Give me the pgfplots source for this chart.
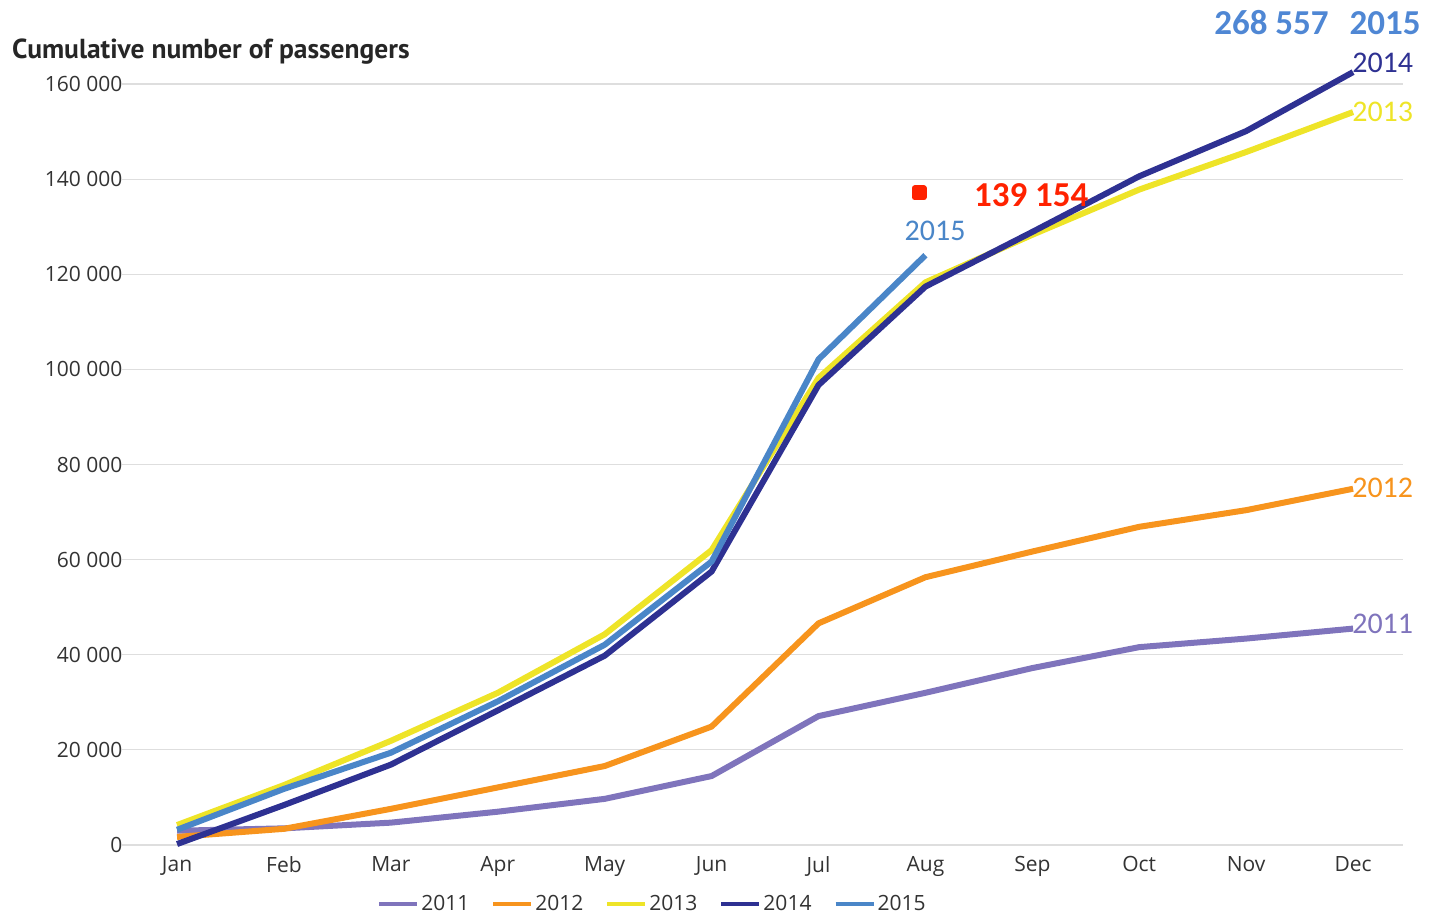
\documentclass[border=0pt]{standalone}
\usepackage{pgfplots}
\pgfplotsset{compat=1.18}
\usepackage{fontspec}
\setmainfont{Carlito}
\newfontfamily\tickfont{Open Sans}
\newfontfamily\titlefont{PT Sans}
\definecolor{c2011}{HTML}{7F74BC}
\definecolor{c2012}{HTML}{F7941D}
\definecolor{c2013}{HTML}{EEE428}
\definecolor{c2014}{HTML}{2E3192}
\definecolor{c2015}{HTML}{4A86C8}
\definecolor{cbig}{HTML}{4F87D4}
\definecolor{cred}{HTML}{FF2200}
\definecolor{txt}{HTML}{333333}
\begin{document}
\begin{tikzpicture}
\path[use as bounding box] (-122pt,-71pt) rectangle (1308pt,845pt);
\begin{axis}[
  scale only axis,
  width=1281.3pt, height=808.56pt,
  xmin=-0.515, xmax=11.47,
  ymin=0, ymax=170000,
  clip=false,
  scaled y ticks=false,
  axis line style={draw=none},
  tick style={draw=none},
  xtick={0,1,2,3,4,5,6,7,8,9,10,11},
  xticklabels={Jan,Feb,Mar,Apr,May,Jun,Jul,Aug,Sep,Oct,Nov,Dec},
  ytick={0,20000,40000,60000,80000,100000,120000,140000,160000},
  yticklabels={0,20 000,40 000,60 000,80 000,100 000,120 000,140 000,160 000},
  ymajorgrids,
  grid style={draw=black!13, line width=1.2pt},
  ticklabel style={font=\tickfont\fontsize{21}{24}\selectfont, text=txt},
  yticklabel style={xshift=4pt},
  xticklabel style={yshift=-8pt},
  legend columns=5,
  legend style={draw=none, at={(0.414,-0.073)}, anchor=center,
    font=\tickfont\fontsize{21}{24}\selectfont, text=txt,
    /tikz/every even column/.append style={column sep=20pt}},
  legend image code/.code={\draw[#1, line width=4pt] (0pt,0pt) -- (38pt,0pt);},
  every axis plot/.append style={line width=6pt, line join=round},
]
\addplot[c2011, mark=none] coordinates {(0,3000)(1,3500)(2,4700)(3,7000)(4,9700)(5,14500)(6,27100)(7,32000)(8,37200)(9,41600)(10,43400)(11,45500)};
\addlegendentry{2011}
\addplot[c2012, mark=none] coordinates {(0,1700)(1,3400)(2,7600)(3,12100)(4,16600)(5,24900)(6,46600)(7,56300)(8,61700)(9,66900)(10,70400)(11,74900)};
\addlegendentry{2012}
\addplot[c2013, mark=none] coordinates {(0,4200)(1,12600)(2,21900)(3,32000)(4,44300)(5,62000)(6,98200)(7,118300)(8,128300)(9,137800)(10,145700)(11,154100)};
\addlegendentry{2013}
\addplot[c2014, mark=none] coordinates {(0,200)(1,8400)(2,16900)(3,28300)(4,39800)(5,57500)(6,96700)(7,117400)(8,128900)(9,140600)(10,150100)(11,162500)};
\addlegendentry{2014}
\addplot[c2015, mark=none] coordinates {(0,3200)(1,11800)(2,19400)(3,30200)(4,42100)(5,59600)(6,102100)(7,124000)};
\addlegendentry{2015}
\addplot[cred, only marks, mark=square*, mark size=4.5pt, forget plot] coordinates {(6.94,137100)};
\node[anchor=west, text=c2014, font=\fontsize{30}{32}\selectfont] at (axis cs:10.96,164400) {2014};
\node[anchor=west, text=c2013, font=\fontsize{30}{32}\selectfont] at (axis cs:10.96,154100) {2013};
\node[anchor=west, text=c2012, font=\fontsize{30}{32}\selectfont] at (axis cs:10.96,75100) {2012};
\node[anchor=west, text=c2011, font=\fontsize{30}{32}\selectfont] at (axis cs:10.96,46500) {2011};
\node[text=c2015, font=\fontsize{30}{32}\selectfont] at (axis cs:7.09,129100) {2015};
\node[text=cred, font=\bfseries\fontsize{35}{36}\selectfont] at (axis cs:7.99,136700) {139 154};
\node[anchor=east, text=cbig, font=\bfseries\fontsize{35}{38}\selectfont] at (axis cs:11.665,173000) {268 557\hspace{0.6em}2015};
\end{axis}
\node[anchor=west, text=black!85, font=\titlefont\bfseries\fontsize{27.5}{30}\selectfont, inner sep=0pt] at (-110pt,793pt) {Cumulative number of passengers};
\end{tikzpicture}
\end{document}
